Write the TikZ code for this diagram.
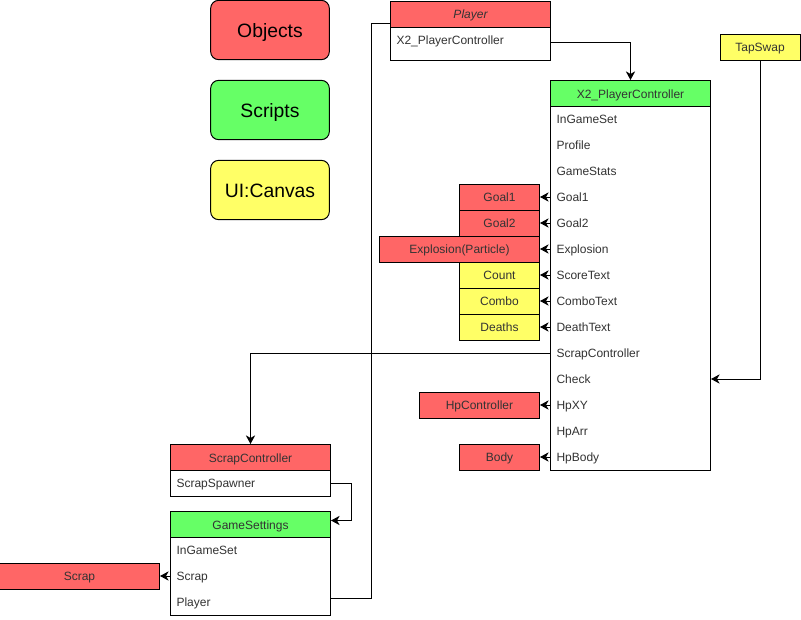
\documentclass[tikz,border=0pt]{standalone}
\usepackage{fontspec}
\setmainfont{Liberation Sans}
\usepackage{tikz}
\usetikzlibrary{arrows.meta}
\usetikzlibrary{positioning}
\definecolor{objred}{HTML}{FF6666}
\definecolor{scrgreen}{HTML}{66FF66}
\definecolor{uiyellow}{HTML}{FFFF66}
\definecolor{txtgray}{HTML}{333333}

\begin{document}
\begin{tikzpicture}[x=0.75pt, y=-0.75pt, line width=0.75pt,
      font=\fontsize{9}{11}\selectfont, text=txtgray,
      key/.style={draw, rounded corners=6pt, minimum width=89pt, minimum height=44.5pt, inner sep=0pt, text=black, text height=11.5pt, text depth=0pt, font=\fontsize{14.5}{17}\selectfont},
      cls/.style={draw, fill=white, minimum width=120pt, anchor=north west, inner sep=0pt},
      head/.style={draw, minimum width=120pt, minimum height=19.5pt, anchor=north west, inner sep=0pt, text height=7.5pt, text depth=0.5pt},
      row/.style={anchor=west, text width=111pt, inner xsep=4.5pt, inner ysep=0pt, minimum height=19.5pt, align=left, text height=7.5pt, text depth=0.5pt},
      obj/.style={draw, fill=objred, minimum height=19.5pt, inner sep=0pt, text height=7.5pt, text depth=0.5pt},
      ui/.style={draw, fill=uiyellow, minimum height=19.5pt, inner sep=0pt, text height=7.5pt, text depth=0.5pt},
      arr/.style={-{Stealth[length=6.5pt,width=7pt,inset=2pt]}}]
      \useasboundingbox (0,0) rectangle (801,619);

      % legend
      \node[key, fill=objred] (kobj) at (270,30) {Objects};
      \node[key, fill=scrgreen] (kscr) at (270,110) {Scripts};
      \node[key, fill=uiyellow] (kui) at (270,190) {UI:Canvas};

      % Player
      \node[cls, minimum height=44.5pt] (player) at (390,0.5) {};
      \node[head, fill=objred, font=\fontsize{9}{11}\selectfont\itshape] (plh) at (390,0.5) {Player};
      \node[row] (pl1) at (390,40) {X2\_PlayerController};

      % X2_PlayerController
      \node[cls, minimum height=292.5pt] (pc) at (550,80) {};
      \node[head, fill=scrgreen] (pch) at (550,80) {X2\_PlayerController};
      \foreach \t [count=\i] in {InGameSet,Profile,GameStats,Goal1,Goal2,Explosion,ScoreText,ComboText,DeathText,ScrapController,Check,HpXY,HpArr,HpBody}
        \node[row] (x\i) at (550,93+26*\i) {\t};

      \node[ui, minimum width=60pt] (tap) at (760,47) {TapSwap};

      \node[obj, minimum width=60pt, left=7.5pt of x4] (g1) {Goal1};
      \node[obj, minimum width=60pt, left=7.5pt of x5] (g2) {Goal2};
      \node[obj, minimum width=120pt, left=7.5pt of x6] (expl) {Explosion(Particle)};
      \node[ui, minimum width=60pt, left=7.5pt of x7] (cnt) {Count};
      \node[ui, minimum width=60pt, left=7.5pt of x8] (cmb) {Combo};
      \node[ui, minimum width=60pt, left=7.5pt of x9] (dth) {Deaths};
      \node[obj, minimum width=90pt, left=7.5pt of x12] (hpc) {HpController};
      \node[obj, minimum width=60pt, left=7.5pt of x14] (body) {Body};

      % ScrapController
      \node[cls, minimum height=39pt] (sc) at (170,444) {};
      \node[head, fill=objred] (sch) at (170,444) {ScrapController};
      \node[row] (ss) at (170,483) {ScrapSpawner};

      % GameSettings
      \node[cls, minimum height=78pt] (gs) at (170,511) {};
      \node[head, fill=scrgreen] (gsh) at (170,511) {GameSettings};
      \node[row] (gs1) at (170,550) {InGameSet};
      \node[row] (gs2) at (170,576) {Scrap};
      \node[row] (gs3) at (170,602) {Player};

      \node[obj, minimum width=120pt, left=7.5pt of gs2] (scrap) {Scrap};

      % connectors
      \draw[arr] ([yshift=-2pt]pl1.east) -| (pch.north);
      \draw[arr] (tap) |- (x11);
      \foreach \a/\b in {x4/g1, x5/g2, x6/expl, x7/cnt, x8/cmb, x9/dth, x12/hpc, x14/body, gs2/scrap}
        \draw[arr] (\a) -- (\b);
      \draw[arr] (x10) -| (sch.north);
      \draw[arr] (ss.east) -- ++(15pt,0) |- ([yshift=3pt]gsh.east);
      \coordinate (bend) at (371,23);
      \draw ([yshift=3pt]gs3.east) -| (bend) -- (bend -| player.west);
  \end{tikzpicture}
\end{document}
